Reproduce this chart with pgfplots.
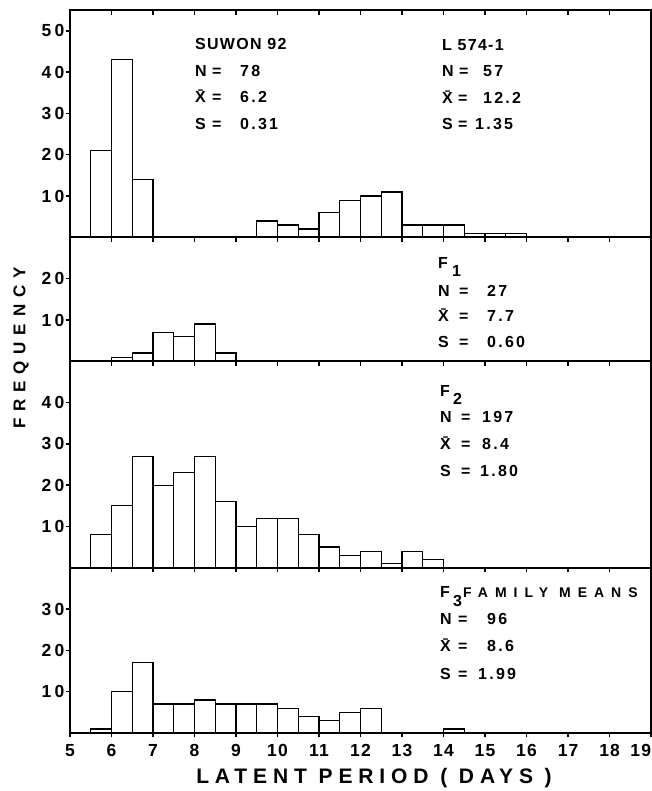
\documentclass[border=0pt]{standalone}
\usepackage{fontspec}
\setmainfont{Liberation Sans}
\newfontfamily\nmfont{Liberation Sans}[LetterSpace=8]
\newfontfamily\valfont{Liberation Sans}[LetterSpace=14]
\newfontfamily\famfont{Liberation Sans}[LetterSpace=50]
\newfontfamily\ylabfont{Liberation Sans}[LetterSpace=40]
\newfontfamily\xlabfont{Liberation Sans}[LetterSpace=28]
\newfontfamily\ytfont{Liberation Sans}[LetterSpace=18]
\newfontfamily\xtfont{Liberation Sans}[LetterSpace=6]
\usepackage{pgfplots}
\pgfplotsset{compat=1.18}
\newcommand\ytickfont{\ytfont\bfseries\fontsize{17.5}{17.5}\selectfont}
\newcommand\xtickfont{\xtfont\bfseries\fontsize{17.5}{17.5}\selectfont}
\newcommand\nm{\nmfont\bfseries\fontsize{16}{16}\selectfont}
\newcommand\vl{\valfont\bfseries\fontsize{16}{16}\selectfont}
\pgfplotsset{
 panel/.style={
  scale only axis, width=581pt, xmin=5, xmax=19, ymin=0,
  xtick={5,6,...,19}, xtick pos=lower, ytick pos=left,
  xtick align=outside, ytick align=outside,
  major tick length=4.5pt,
  axis line style={line width=1.9pt},
  every tick/.style={black, line width=1.4pt},
  axis on top,
  /pgf/number format/assume math mode=true,
  yticklabel style={font=\ytickfont, inner sep=1pt},
  anchor=south west,
 },
 hist/.style={ybar, bar width=0.5, bar shift=0pt, draw=black, fill=white, line width=1.3pt},
}
\begin{document}
\begin{tikzpicture}
\useasboundingbox (-70pt,0pt) rectangle (582pt,791pt);
% Panel 4: F3 family means
\begin{axis}[panel, at={(0pt,58pt)}, height=165.2pt, ymax=40, ytick={10,20,30},
  xticklabels={5,6,7,8,9,10,11,12,13,14,15,16,17,18,{\makebox[0pt][r]{19}}},
  xticklabel style={font=\xtickfont, yshift=-3pt}]
\addplot[hist] coordinates {(5.75,1) (6.25,10) (6.75,17) (7.25,7) (7.75,7) (8.25,8) (8.75,7) (9.25,7) (9.75,7) (10.25,6) (10.75,4) (11.25,3) (11.75,5) (12.25,6) (14.25,1)};
\end{axis}
% Panel 3: F2
\begin{axis}[panel, at={(0pt,223.2pt)}, height=206.5pt, ymax=50, ytick={10,20,30,40}, xticklabel=\empty]
\addplot[hist] coordinates {(5.75,8) (6.25,15) (6.75,27) (7.25,20) (7.75,23) (8.25,27) (8.75,16) (9.25,10) (9.75,12) (10.25,12) (10.75,8) (11.25,5) (11.75,3) (12.25,4) (12.75,1) (13.25,4) (13.75,2)};
\end{axis}
% Panel 2: F1
\begin{axis}[panel, at={(0pt,429.7pt)}, height=123.9pt, ymax=30, ytick={10,20}, xticklabel=\empty]
\addplot[hist] coordinates {(6.25,1) (6.75,2) (7.25,7) (7.75,6) (8.25,9) (8.75,2)};
\end{axis}
% Panel 1: parents
\begin{axis}[panel, at={(0pt,553.6pt)}, height=227.15pt, ymax=55, ytick={10,20,30,40,50}, xticklabel=\empty]
\addplot[hist] coordinates {(5.75,21) (6.25,43) (6.75,14)};
\addplot[hist] coordinates {(9.75,4) (10.25,3) (10.75,2) (11.25,6) (11.75,9) (12.25,10) (12.75,11) (13.25,3) (13.75,3) (14.25,3) (14.75,1) (15.25,1) (15.75,1)};
\end{axis}
\begin{axis}[panel, at={(0pt,553.6pt)}, height=227.15pt, ymax=55, ytick=\empty, xticklabel=\empty,
  xtick pos=upper, xtick align=inside]
\end{axis}
% annotations
\begin{scope}[every node/.style={inner sep=0pt, anchor=base west}]
% Suwon 92
\node at (125pt,741pt) {\nm SUWON 92};
\node at (125pt,714pt) {\nm N}; \node at (142pt,714pt) {\nm =}; \node at (170pt,714pt) {\vl 78};
\node at (125pt,688pt) {\nm \={X}}; \node at (142pt,688pt) {\nm =}; \node at (170pt,688pt) {\vl 6.2};
\node at (125pt,661pt) {\nm S}; \node at (142pt,661pt) {\nm =}; \node at (170pt,661pt) {\vl 0.31};
% L 574-1
\node at (372pt,740pt) {\nm L 574-1};
\node at (372pt,714pt) {\nm N}; \node at (389pt,714pt) {\nm =}; \node at (413pt,714pt) {\vl 57};
\node at (372pt,687pt) {\nm \={X}}; \node at (388pt,687pt) {\nm =}; \node at (413pt,687pt) {\vl 12.2};
\node at (372pt,661pt) {\nm S}; \node at (388pt,661pt) {\nm =}; \node at (405pt,661pt) {\vl 1.35};
% F1
\node at (368pt,522pt) {\nm F};
\node at (382pt,514pt) {\nm 1};
\node at (368pt,494pt) {\nm N}; \node at (389pt,494pt) {\nm =}; \node at (417pt,494pt) {\vl 27};
\node at (368pt,469pt) {\nm \={X}}; \node at (389pt,469pt) {\nm =}; \node at (417pt,469pt) {\vl 7.7};
\node at (368pt,443pt) {\nm S}; \node at (389pt,443pt) {\nm =}; \node at (417pt,443pt) {\vl 0.60};
% F2
\node at (370pt,394pt) {\nm F};
\node at (383pt,386pt) {\nm 2};
\node at (370pt,368pt) {\nm N}; \node at (391pt,368pt) {\nm =}; \node at (412pt,368pt) {\vl 197};
\node at (370pt,341pt) {\nm \={X}}; \node at (391pt,341pt) {\nm =}; \node at (412pt,341pt) {\vl 8.4};
\node at (370pt,314pt) {\nm S}; \node at (391pt,314pt) {\nm =}; \node at (410pt,314pt) {\vl 1.80};
% F3
\node at (370pt,193pt) {\nm F};
\node at (383pt,184pt) {\nm 3};
\node at (393pt,193pt) {\famfont\bfseries\fontsize{14}{14}\selectfont FAMILY MEANS};
\node at (370pt,166pt) {\nm N}; \node at (388pt,166pt) {\nm =}; \node at (417pt,166pt) {\vl 96};
\node at (370pt,139pt) {\nm \={X}}; \node at (388pt,139pt) {\nm =}; \node at (417pt,139pt) {\vl 8.6};
\node at (370pt,111pt) {\nm S}; \node at (388pt,111pt) {\nm =}; \node at (408pt,111pt) {\vl 1.99};
\end{scope}
% axis titles
\node[rotate=90, anchor=center, inner sep=0pt] at (-49pt,443pt) {\ylabfont\bfseries\fontsize{17}{17}\selectfont FREQUENCY};
\node[anchor=base, inner sep=0pt] at (304pt,7pt) {\xlabfont\bfseries\fontsize{21}{21}\selectfont LATENT PERIOD ( DAYS )};
\end{tikzpicture}
\end{document}
